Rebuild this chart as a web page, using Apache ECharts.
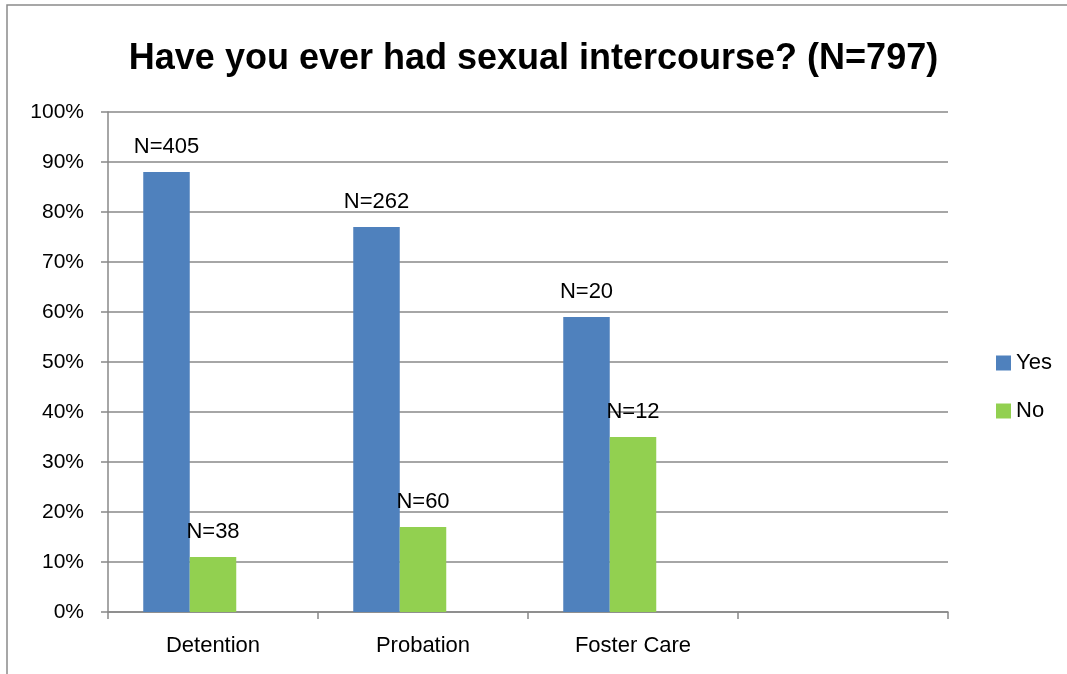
<!DOCTYPE html>
<html>
<head>
<meta charset="utf-8">
<script src="https://cdn.jsdelivr.net/npm/echarts@6/dist/echarts.min.js"></script>
<style>
  html, body { margin: 0; padding: 0; background: #fff; }
  #chart { width: 1067px; height: 674px; }
</style>
</head>
<body>
<div id="chart"></div>
<script>
var categories = ['Detention', 'Probation', 'Foster Care', ''];
var yesValues = [88, 77, 59, null];
var noValues = [11, 17, 35, null];
// Excel kept an empty third series, which pushes the pairs left of centre
var blankValues = [null, null, null, null];
var yesLabels = ['N=405', 'N=262', 'N=20', ''];
var noLabels = ['N=38', 'N=60', 'N=12', ''];

var font = 'Liberation Sans';
var chart = echarts.init(document.getElementById('chart'));

function labelFor(names) {
  return {
    show: true,
    position: 'top',
    distance: 14,
    fontFamily: font,
    fontSize: 22,
    color: '#000',
    formatter: function (p) { return names[p.dataIndex]; }
  };
}

chart.setOption({
  backgroundColor: '#fff',
  animation: false,
  graphic: [{
    type: 'rect',
    shape: { x: 7, y: 5, width: 1200, height: 800 },
    style: { fill: 'none', stroke: '#8a8a8a', lineWidth: 1.5 },
    silent: true
  }],
  title: {
    text: 'Have you ever had sexual intercourse? (N=797)',
    left: 'center',
    top: 36,
    textStyle: { fontFamily: font, fontSize: 36, fontWeight: 'bold', color: '#000' }
  },
  legend: {
    orient: 'vertical',
    left: 991,
    top: 347,
    itemWidth: 15,
    itemHeight: 15,
    itemGap: 26,
    icon: 'rect',
    textStyle: { fontFamily: font, fontSize: 22, color: '#000' },
    data: ['Yes', 'No']
  },
  grid: { left: 108, right: 119, top: 112, bottom: 62, containLabel: false },
  xAxis: {
    type: 'category',
    data: categories,
    axisLine: { lineStyle: { color: '#888', width: 1.5 } },
    axisTick: { show: true, length: 7, lineStyle: { color: '#888', width: 1.5 } },
    axisLabel: { margin: 23, fontFamily: font, fontSize: 22, color: '#000' }
  },
  yAxis: {
    type: 'value',
    min: 0,
    max: 100,
    interval: 10,
    axisLine: { show: true, lineStyle: { color: '#888', width: 1.5 } },
    axisTick: { show: true, length: 7, lineStyle: { color: '#888', width: 1.5 } },
    axisLabel: { margin: 24, fontFamily: font, fontSize: 21, color: '#000', formatter: '{value}%' },
    splitLine: { lineStyle: { color: '#888', width: 1.5 } }
  },
  series: [
    {
      name: 'Yes',
      type: 'bar',
      data: yesValues,
      barWidth: 46.5,
      barGap: '0%',
      itemStyle: { color: '#4F81BD' },
      label: labelFor(yesLabels)
    },
    {
      name: 'No',
      type: 'bar',
      data: noValues,
      barWidth: 46.5,
      barGap: '0%',
      itemStyle: { color: '#92D050' },
      label: labelFor(noLabels)
    },
    {
      name: 'blank',
      type: 'bar',
      data: blankValues,
      barWidth: 46.5,
      barGap: '0%',
      silent: true
    }
  ]
});
</script>
</body>
</html>
